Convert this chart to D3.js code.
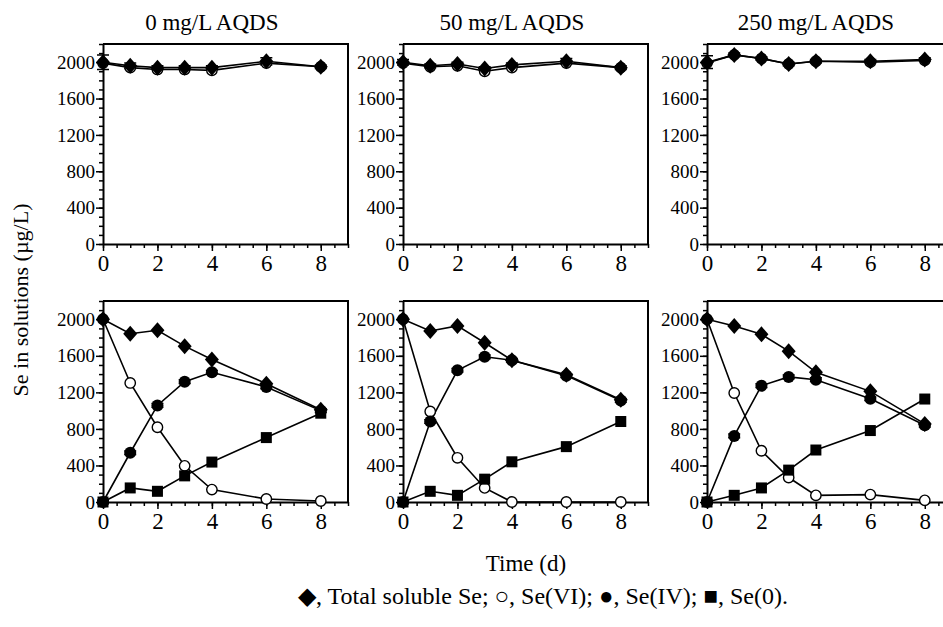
<!DOCTYPE html>
<html>
<head>
<meta charset="utf-8">
<script src="https://cdn.jsdelivr.net/npm/d3@7"></script>
<style>
  body { margin: 0; background: #fff; }
  svg { display: block; }
  svg text { font-family: "Liberation Serif", "Times New Roman", serif !important; fill: #000; }
</style>
</head>
<body>
<svg id="chart" width="943" height="627"></svg>
<script>
// sampling days
var days = [0, 1, 2, 3, 4, 6, 8];
var titles = ["0 mg/L AQDS", "50 mg/L AQDS", "250 mg/L AQDS"];
var yTicks = [0, 400, 800, 1200, 1600, 2000];
var xTicks = [0, 2, 4, 6, 8];

// top row (controls): total soluble Se and Se(VI)
var topTotal0   = [2000, 1960, 1940, 1940, 1940, 2010, 1950];
var topVI0      = [1990, 1940, 1920, 1920, 1910, 1990, 1950];
var topTotal50  = [2000, 1960, 1980, 1930, 1970, 2010, 1940];
var topVI50     = [1990, 1950, 1960, 1900, 1940, 1990, 1940];
var topTotal250 = [2000, 2080, 2040, 1980, 2010, 2010, 2030];
var topVI250    = [1990, 2080, 2040, 1980, 2010, 2000, 2020];
var topErr0     = [80, 30, 20, 20, 20, 40, 20];
var topErr50    = [30, 20, 20, 20, 20, 30, 20];
var topErr250   = [70, 20, 20, 20, 20, 20, 20];

// bottom row
var total0 = [2000, 1842, 1879, 1706, 1560, 1295, 1009];
var vi0    = [2000, 1303, 818, 396, 136, 33, 11];
var iv0    = [0, 539, 1057, 1317, 1420, 1259, 1000];
var zero0  = [0, 154, 117, 286, 437, 705, 972];

var total50 = [2000, 1872, 1927, 1743, 1552, 1394, 1119];
var vi50    = [2000, 991, 484, 154, 0, 0, 0];
var iv50    = [0, 881, 1442, 1589, 1552, 1383, 1112];
var zero50  = [0, 117, 73, 250, 440, 606, 881];

var total250 = [2000, 1927, 1835, 1651, 1420, 1211, 855];
var vi250    = [2000, 1193, 561, 268, 73, 81, 18];
var iv250    = [0, 723, 1273, 1369, 1339, 1130, 840];
var zero250  = [0, 73, 154, 349, 569, 782, 1127];
var ivErr    = [20, 20, 20, 20, 20, 20, 20];

var svg = d3.select("#chart");

var panelLeft = [103, 403, 707];
var panelW = 245;
var rows = [{top: 44, bottom: 244}, {top: 301, bottom: 502}];

// open circles go first so the filled marks sit on top
var topSets = [
  [{v: topVI0, m: "open"}, {v: topTotal0, m: "diamond", err: topErr0}],
  [{v: topVI50, m: "open"}, {v: topTotal50, m: "diamond", err: topErr50}],
  [{v: topVI250, m: "open"}, {v: topTotal250, m: "diamond", err: topErr250}]
];
var bottomSets = [
  [{v: vi0, m: "open"}, {v: total0, m: "diamond"}, {v: iv0, m: "filled", err: ivErr}, {v: zero0, m: "square"}],
  [{v: vi50, m: "open"}, {v: total50, m: "diamond"}, {v: iv50, m: "filled", err: ivErr}, {v: zero50, m: "square"}],
  [{v: vi250, m: "open"}, {v: total250, m: "diamond"}, {v: iv250, m: "filled", err: ivErr}, {v: zero250, m: "square"}]
];

function drawPanel(col, row, sets) {
  var r = rows[row];
  var px = d3.scaleLinear().domain([0, 9]).range([panelLeft[col], panelLeft[col] + panelW]);
  var py = d3.scaleLinear().domain([0, 2200]).range([r.bottom, r.top]);
  var g = svg.append("g");

  // frame (top and right)
  g.append("path")
    .attr("d", "M" + px(0) + "," + py(2200) + "H" + px(9) + "V" + py(0))
    .attr("fill", "none").attr("stroke", "#000").attr("stroke-width", 2);

  // minor ticks
  var yMinor = g.append("g").attr("transform", "translate(" + px(0) + ",0)")
    .call(d3.axisLeft(py).tickValues(d3.range(0, 2201, 100)).tickSize(4).tickFormat(""));
  yMinor.select(".domain").remove();
  var xMinor = g.append("g").attr("transform", "translate(0," + py(0) + ")")
    .call(d3.axisBottom(px).tickValues(d3.range(0, 9.01, 0.5)).tickSize(4).tickFormat(""));
  xMinor.select(".domain").remove();

  var yAxis = g.append("g").attr("transform", "translate(" + px(0) + ",0)")
    .call(d3.axisLeft(py).tickValues(yTicks).tickFormat(d3.format("d")).tickSize(7).tickPadding(1).tickSizeOuter(0));
  yAxis.attr("font-family", null).attr("font-size", 19);
  var xAxis = g.append("g").attr("transform", "translate(0," + py(0) + ")")
    .call(d3.axisBottom(px).tickValues(xTicks).tickFormat(d3.format("d")).tickSize(7).tickPadding(4).tickSizeOuter(0));
  xAxis.attr("font-family", null).attr("font-size", 23);

  [yMinor, xMinor, yAxis, xAxis].forEach(function(a) {
    a.selectAll("line").attr("stroke", "#000").attr("stroke-width", 1.5);
    a.selectAll(".domain").attr("stroke", "#000").attr("stroke-width", 2);
  });

  var ln = d3.line().x(function(d, i) { return px(days[i]); }).y(function(d) { return py(d); });

  sets.forEach(function(s) {
    g.append("path").datum(s.v).attr("d", ln)
      .attr("fill", "none").attr("stroke", "#000").attr("stroke-width", 1.6);
  });

  sets.forEach(function(s) {
    if (!s.err) return;
    s.v.forEach(function(v, i) {
      var cx = px(days[i]), e = s.err[i];
      g.append("path")
        .attr("d", "M" + cx + "," + py(v - e) + "V" + py(v + e) +
          "M" + (cx - 6) + "," + py(v + e) + "H" + (cx + 6) +
          "M" + (cx - 6) + "," + py(v - e) + "H" + (cx + 6))
        .attr("stroke", "#000").attr("stroke-width", 1.5).attr("fill", "none");
    });
  });

  sets.forEach(function(s) {
    s.v.forEach(function(v, i) {
      var cx = px(days[i]), cy = py(v);
      if (s.m === "diamond") {
        g.append("path").attr("d", "M" + cx + "," + (cy - 8) + "L" + (cx + 7) + "," + cy + "L" + cx + "," + (cy + 8) + "L" + (cx - 7) + "," + cy + "Z")
          .attr("fill", "#000");
      } else if (s.m === "open") {
        g.append("circle").attr("cx", cx).attr("cy", cy).attr("r", 5.2)
          .attr("fill", "#fff").attr("stroke", "#000").attr("stroke-width", 1.4);
      } else if (s.m === "filled") {
        g.append("circle").attr("cx", cx).attr("cy", cy).attr("r", 6).attr("fill", "#000");
      } else {
        g.append("rect").attr("x", cx - 5.5).attr("y", cy - 5.5).attr("width", 11).attr("height", 11).attr("fill", "#000");
      }
    });
  });
}

for (var c = 0; c < 3; c++) {
  drawPanel(c, 0, topSets[c]);
  drawPanel(c, 1, bottomSets[c]);
  svg.append("text").attr("x", panelLeft[c] + 27.2 * 4).attr("y", 30)
    .attr("text-anchor", "middle").attr("font-size", 23).text(titles[c]);
}

svg.append("text").attr("transform", "translate(28,300) rotate(-90)")
  .attr("text-anchor", "middle").attr("font-size", 22).text("Se in solutions (\u00b5g/L)");

svg.append("text").attr("x", 526).attr("y", 571)
  .attr("text-anchor", "middle").attr("font-size", 23).text("Time (d)");

svg.append("text").attr("x", 543).attr("y", 604)
  .attr("text-anchor", "middle").attr("font-size", 24)
  .text("\u25c6, Total soluble Se; \u25cb, Se(VI); \u25cf, Se(IV); \u25a0, Se(0).");
</script>
</body>
</html>
